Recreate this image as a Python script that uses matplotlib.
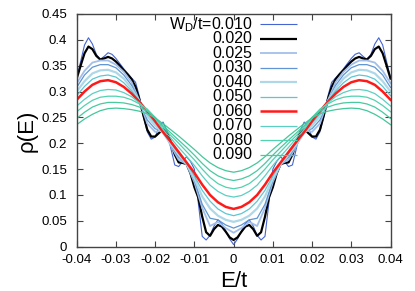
import numpy as np
import matplotlib
matplotlib.use("Agg")
import matplotlib.pyplot as plt
from matplotlib.ticker import FuncFormatter, MultipleLocator

plt.rcParams['font.family'] = ['Liberation Sans', 'DejaVu Sans']
plt.rcParams['axes.unicode_minus'] = False

# energy grids (E/t)
E_fine = np.arange(-40, 41) / 1000.0
E_coarse = np.arange(-20, 21) * 0.002

# density of states rho(E) for each disorder strength W_D/t
rho_010 = [0.326, 0.358, 0.390, 0.404, 0.392, 0.372, 0.362, 0.368, 0.375, 0.372,
           0.364, 0.354, 0.344, 0.335, 0.326, 0.318, 0.290, 0.252, 0.222, 0.208,
           0.212, 0.232, 0.241, 0.225, 0.190, 0.158, 0.155, 0.165, 0.174, 0.165,
           0.150, 0.085, 0.020, 0.013, 0.022, 0.040, 0.052, 0.045, 0.030, 0.015,
           0.004,
           0.015, 0.030, 0.045, 0.052, 0.040, 0.022, 0.013, 0.020, 0.085, 0.150,
           0.165, 0.174, 0.165, 0.155, 0.158, 0.190, 0.225, 0.241, 0.232, 0.212,
           0.208, 0.222, 0.252, 0.290, 0.318, 0.326, 0.335, 0.344, 0.354, 0.364,
           0.372, 0.375, 0.368, 0.362, 0.372, 0.392, 0.404, 0.390, 0.358, 0.326]
rho_020 = [0.325, 0.350, 0.374, 0.387, 0.382, 0.369, 0.362, 0.364, 0.367, 0.364,
           0.358, 0.350, 0.341, 0.333, 0.324, 0.309, 0.284, 0.254, 0.226, 0.213,
           0.213, 0.220, 0.227, 0.222, 0.202, 0.178, 0.163, 0.162, 0.160, 0.142,
           0.115, 0.095, 0.058, 0.028, 0.021, 0.034, 0.042, 0.039, 0.029, 0.018,
           0.013,
           0.018, 0.029, 0.039, 0.042, 0.034, 0.021, 0.028, 0.058, 0.095, 0.115,
           0.142, 0.160, 0.162, 0.163, 0.178, 0.202, 0.222, 0.227, 0.220, 0.213,
           0.213, 0.226, 0.254, 0.284, 0.309, 0.324, 0.333, 0.341, 0.350, 0.358,
           0.364, 0.367, 0.364, 0.362, 0.369, 0.382, 0.387, 0.374, 0.350, 0.325]
rho_025 = [0.316, 0.340, 0.356, 0.360, 0.360, 0.352, 0.338, 0.318, 0.282, 0.238,
           0.222, 0.226, 0.195, 0.168, 0.160, 0.125, 0.075, 0.040, 0.048, 0.036,
           0.027,
           0.036, 0.048, 0.040, 0.075, 0.125, 0.160, 0.168, 0.195, 0.226, 0.222,
           0.238, 0.282, 0.318, 0.338, 0.352, 0.360, 0.360, 0.356, 0.340, 0.316]
rho_030 = [0.308, 0.332, 0.347, 0.352, 0.352, 0.346, 0.332, 0.312, 0.281, 0.245,
           0.228, 0.224, 0.196, 0.173, 0.160, 0.128, 0.082, 0.055, 0.052, 0.042,
           0.036,
           0.042, 0.052, 0.055, 0.082, 0.128, 0.160, 0.173, 0.196, 0.224, 0.228,
           0.245, 0.281, 0.312, 0.332, 0.346, 0.352, 0.352, 0.347, 0.332, 0.308]
rho_040 = [0.300, 0.320, 0.335, 0.341, 0.342, 0.337, 0.325, 0.306, 0.281, 0.252,
           0.234, 0.220, 0.198, 0.178, 0.160, 0.132, 0.097, 0.074, 0.060, 0.052,
           0.048,
           0.052, 0.060, 0.074, 0.097, 0.132, 0.160, 0.178, 0.198, 0.220, 0.234,
           0.252, 0.281, 0.306, 0.325, 0.337, 0.342, 0.341, 0.335, 0.320, 0.300]
rho_050 = [0.292, 0.310, 0.324, 0.330, 0.332, 0.328, 0.317, 0.301, 0.281, 0.257,
           0.239, 0.221, 0.201, 0.181, 0.162, 0.137, 0.109, 0.088, 0.073, 0.064,
           0.060,
           0.064, 0.073, 0.088, 0.109, 0.137, 0.162, 0.181, 0.201, 0.221, 0.239,
           0.257, 0.281, 0.301, 0.317, 0.328, 0.332, 0.330, 0.324, 0.310, 0.292]
rho_060 = [0.284, 0.300, 0.313, 0.320, 0.322, 0.318, 0.309, 0.296, 0.280, 0.262,
           0.243, 0.222, 0.203, 0.183, 0.163, 0.143, 0.120, 0.100, 0.086, 0.077,
           0.073,
           0.077, 0.086, 0.100, 0.120, 0.143, 0.163, 0.183, 0.203, 0.222, 0.243,
           0.262, 0.280, 0.296, 0.309, 0.318, 0.322, 0.320, 0.313, 0.300, 0.284]
rho_070 = [0.272, 0.285, 0.296, 0.302, 0.304, 0.303, 0.298, 0.290, 0.278, 0.264,
           0.248, 0.227, 0.210, 0.192, 0.175, 0.157, 0.137, 0.119, 0.107, 0.099,
           0.096,
           0.099, 0.107, 0.119, 0.137, 0.157, 0.175, 0.192, 0.210, 0.227, 0.248,
           0.264, 0.278, 0.290, 0.298, 0.303, 0.304, 0.302, 0.296, 0.285, 0.272]
rho_080 = [0.261, 0.273, 0.283, 0.289, 0.291, 0.291, 0.289, 0.284, 0.276, 0.266,
           0.250, 0.231, 0.215, 0.200, 0.184, 0.168, 0.150, 0.134, 0.122, 0.115,
           0.112,
           0.115, 0.122, 0.134, 0.150, 0.168, 0.184, 0.200, 0.215, 0.231, 0.250,
           0.266, 0.276, 0.284, 0.289, 0.291, 0.291, 0.289, 0.283, 0.273, 0.261]
rho_090 = [0.248, 0.260, 0.270, 0.276, 0.279, 0.279, 0.278, 0.275, 0.270, 0.262,
           0.250, 0.234, 0.220, 0.206, 0.192, 0.177, 0.161, 0.147, 0.137, 0.131,
           0.128,
           0.131, 0.137, 0.147, 0.161, 0.177, 0.192, 0.206, 0.220, 0.234, 0.250,
           0.262, 0.270, 0.275, 0.278, 0.279, 0.279, 0.276, 0.270, 0.260, 0.248]
rho_100 = [0.236, 0.247, 0.256, 0.263, 0.267, 0.268, 0.267, 0.265, 0.262, 0.257,
           0.249, 0.238, 0.226, 0.214, 0.201, 0.188, 0.174, 0.162, 0.153, 0.147,
           0.144,
           0.147, 0.153, 0.162, 0.174, 0.188, 0.201, 0.214, 0.226, 0.238, 0.249,
           0.257, 0.262, 0.265, 0.267, 0.268, 0.267, 0.263, 0.256, 0.247, 0.236]

labels = [r'W$_\mathregular{D}$/t=0.010', '0.020', '0.025', '0.030', '0.040',
          '0.050', '0.060', '0.070', '0.080', '0.090', None]

curves = [
    (E_fine, rho_010, '#4565d2', 0.8),
    (E_fine, rho_020, 'black', 1.6),
    (E_coarse, rho_025, '#a3bfe9', 1.3),
    (E_coarse, rho_030, '#5e95d2', 0.9),
    (E_coarse, rho_040, '#aed8e7', 1.6),
    (E_coarse, rho_050, '#5cc6d2', 0.9),
    (E_coarse, rho_060, '#ff1a1a', 1.8),
    (E_coarse, rho_070, '#5ccfc2', 0.9),
    (E_coarse, rho_080, '#52d2ae', 0.9),
    (E_coarse, rho_090, '#48c9a0', 0.9),
    (E_coarse, rho_100, '#44c79a', 0.9),
]

fig = plt.figure(figsize=(4.15, 2.91), dpi=100)
ax = fig.add_axes([0.1848, 0.1522, 0.7562, 0.7998])

for E, rho, col, lw in curves:
    ax.plot(E, rho, color=col, lw=lw)

# gnuplot-like key: text right-aligned, sample line to the right
y0 = 0.956
dy = 0.0624
for i, (lab, (E, rho, col, lw)) in enumerate(zip(labels, curves)):
    if lab is None:
        continue
    y = y0 - i * dy
    ax.text(0.559, y, lab, transform=ax.transAxes, ha='right', va='center',
            fontsize=11.5, color='black')
    ax.plot([0.585, 0.702], [y, y], transform=ax.transAxes, color=col, lw=lw,
            solid_capstyle='butt')

ax.set_xlim(-0.04, 0.04)
ax.set_ylim(0, 0.45)
ax.xaxis.set_major_locator(MultipleLocator(0.01))
ax.yaxis.set_major_locator(MultipleLocator(0.05))
fmt = FuncFormatter(lambda v, p: '%g' % round(v, 4))
ax.xaxis.set_major_formatter(fmt)
ax.yaxis.set_major_formatter(fmt)
ax.tick_params(direction='in', length=4, width=0.8, top=True, right=True,
               labelsize=9.5, color='#444444')
ax.tick_params(axis='x', pad=5)
ax.tick_params(axis='y', pad=7)
for s in ax.spines.values():
    s.set_color('#444444')
    s.set_linewidth(1.0)

ax.set_xlabel('E/t', fontsize=16)
ax.set_ylabel(u'\u03c1(E)', fontsize=16)
ax.xaxis.set_label_coords(0.5, -0.104)
ax.yaxis.set_label_coords(-0.125, 0.5)

fig.savefig('out.png', dpi=100)
